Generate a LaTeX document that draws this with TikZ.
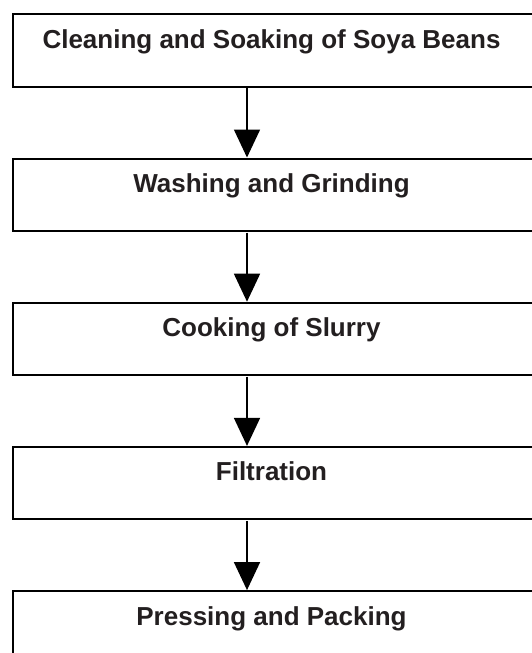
\documentclass[tikz,border=0pt]{standalone}
\usepackage{fontspec}
\setmainfont{Liberation Sans}
\usetikzlibrary{arrows.meta}
\definecolor{inkdark}{HTML}{231F20}
\begin{document}
\begin{tikzpicture}[x=1pt,y=-1pt,
  stagebox/.style={draw=black, line width=2pt, minimum width=523pt, minimum height=72.5pt, inner sep=0pt, anchor=north west},
  stagetext/.style={anchor=base, text=inkdark, font=\bfseries\fontsize{26}{30}\selectfont, inner sep=0pt},
  flowarrow/.style={line width=1.6pt, -{Triangle[width=26pt,length=28pt]}, shorten <=0.5pt}]
\useasboundingbox (0,0) rectangle (532,653);
\fill[white] (0,0) rectangle (532,653);
\coordinate (ax) at (247,0);
\foreach \i/\txt in {1/Cleaning and Soaking of Soya Beans,2/Washing and Grinding,3/Cooking of Slurry,4/Filtration,5/Pressing and Packing}{
  \node[stagebox] (b\i) at (12,{13.3+144.2*(\i-1)}) {};
  \node[stagetext] (t\i) at (271.5,{13.3+144.2*(\i-1)+35}) {\txt};
}
\foreach \i/\j in {1/2,2/3,3/4,4/5}{
  \draw[flowarrow] (b\i.south -| ax) -- (b\j.north -| ax);
}
\end{tikzpicture}
\end{document}
